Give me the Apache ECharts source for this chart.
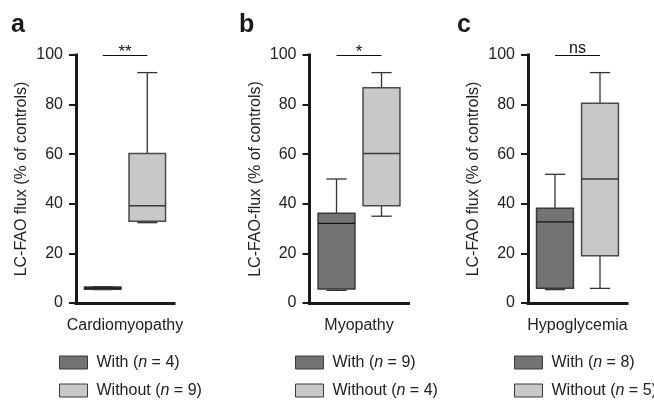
<!DOCTYPE html>
<html>
<head>
<meta charset="utf-8">
<script src="https://cdn.jsdelivr.net/npm/echarts/dist/echarts.min.js"></script>
<style>
  html, body { margin: 0; padding: 0; background: #ffffff; }
  #chart { width: 654px; height: 400px; }
</style>
</head>
<body>
<div id="chart"></div>
<script>
// ---- data ----
const panelLetters = ['a', 'b', 'c'];
const conditions = ['Cardiomyopathy', 'Myopathy', 'Hypoglycemia'];
const yTitles = ['LC-FAO flux (% of controls)', 'LC-FAO-flux (% of controls)', 'LC-FAO flux (% of controls)'];
const groups = ['With', 'Without'];
const withN = [4, 9, 8];
const withoutN = [9, 4, 5];
// [min, Q1, median, Q3, max]
const withStats = [
  [5.4, 5.5, 6.0, 6.5, 6.6],
  [5.1, 5.6, 32.1, 36.2, 50.0],
  [5.4, 5.9, 32.7, 38.2, 51.9]
];
const withoutStats = [
  [32.4, 33.0, 39.2, 60.3, 92.9],
  [35.0, 39.2, 60.3, 86.8, 92.9],
  [5.9, 19.1, 50.0, 80.5, 92.9]
];
const significance = ['**', '*', 'ns'];
const sigLevel = 100;
const yMin = 0, yMax = 100, yStep = 20;

// ---- styles ----
const gridLeft = [76, 309.5, 528];
const gridWidth = [98, 99, 99];
const legendLeft = [59, 295, 514];
const legendTop = [354, 382];
const letterLeft = [11, 239, 457];
const groupStyle = {
  With:    { fill: '#737373', border: '#3a3a3a', median: '#111111' },
  Without: { fill: '#c8c8c8', border: '#4a4a4a', median: '#3a3a3a' }
};
const axisColor = '#1a1a1a';
const textColor = '#222222';
const FONT = 'Liberation Sans, Arial, sans-serif';

function makeRender(groupName) {
  const st = groupStyle[groupName];
  return function (params, api) {
    const x = api.value(0);
    const lo = api.coord([x, api.value(1)]);
    const q1 = api.coord([x, api.value(2)]);
    const med = api.coord([x, api.value(3)]);
    const q3 = api.coord([x, api.value(4)]);
    const hi = api.coord([x, api.value(5)]);
    const boxW = api.size([0.82, 0])[0];
    const capW = api.size([0.45, 0])[0];
    const cx = med[0];
    const wStyle = { stroke: '#333333', lineWidth: 1.3 };
    return {
      type: 'group',
      children: [
        { type: 'line', shape: { x1: cx, y1: hi[1], x2: cx, y2: q3[1] }, style: wStyle },
        { type: 'line', shape: { x1: cx - capW / 2, y1: hi[1], x2: cx + capW / 2, y2: hi[1] }, style: wStyle },
        { type: 'line', shape: { x1: cx, y1: lo[1], x2: cx, y2: q1[1] }, style: wStyle },
        { type: 'line', shape: { x1: cx - capW / 2, y1: lo[1], x2: cx + capW / 2, y2: lo[1] }, style: wStyle },
        { type: 'rect', shape: { x: cx - boxW / 2, y: q3[1], width: boxW, height: q1[1] - q3[1] },
          style: { fill: st.fill, stroke: st.border, lineWidth: 1.5 } },
        { type: 'line', shape: { x1: cx - boxW / 2, y1: med[1], x2: cx + boxW / 2, y2: med[1] },
          style: { stroke: st.median, lineWidth: 1.4 } }
      ]
    };
  };
}

const withName = i => `With (n = ${withN[i]})`;
const withoutName = i => `Without (n = ${withoutN[i]})`;

function legendFor(name, left, top) {
  return {
    data: [name],
    orient: 'vertical', left: left, top: top, padding: 0,
    itemWidth: 28, itemHeight: 13, icon: 'rect',
    selectedMode: false,
    itemStyle: { borderColor: '#3a3a3a', borderWidth: 1 },
    textStyle: {
      fontSize: 16, color: textColor, lineHeight: 17, padding: [0, 0, 0, 4],
      fontFamily: FONT,
      rich: { i: { fontStyle: 'italic', fontSize: 16, color: textColor, fontFamily: FONT } }
    },
    formatter: n => n.replace('(n', '({i|n}')
  };
}

const grid = [], xAxis = [], yAxis = [], series = [], legend = [], title = [];
conditions.forEach((cond, i) => {
  grid.push({ left: gridLeft[i], top: 55, width: gridWidth[i], height: 248, containLabel: false });
  xAxis.push({
    gridIndex: i, type: 'value', min: -0.6, max: 1.6,
    axisLine: { show: true, onZero: false, lineStyle: { color: axisColor, width: 3, cap: 'square' } },
    axisTick: { show: false }, axisLabel: { show: false }, splitLine: { show: false },
    name: cond, nameLocation: 'middle', nameGap: 15,
    nameTextStyle: { fontSize: 16, color: textColor, fontFamily: FONT, verticalAlign: 'top' }
  });
  yAxis.push({
    gridIndex: i, type: 'value', min: yMin, max: yMax, interval: yStep,
    axisLine: { show: true, onZero: false, lineStyle: { color: axisColor, width: 3, cap: 'square' } },
    axisTick: { show: true, length: 7, lineStyle: { color: axisColor, width: 2 } },
    axisLabel: { fontSize: 16, color: textColor, margin: 13, fontFamily: FONT },
    splitLine: { show: false },
    name: yTitles[i], nameLocation: 'middle', nameGap: 46,
    nameTextStyle: { fontSize: 16, color: textColor, fontFamily: FONT }
  });
  const isStar = significance[i] !== 'ns';
  series.push({
    type: 'custom', name: withName(i), xAxisIndex: i, yAxisIndex: i,
    itemStyle: { color: groupStyle.With.fill },
    renderItem: makeRender('With'),
    encode: { x: 0, y: [1, 2, 3, 4, 5] },
    data: [[groups.indexOf('With')].concat(withStats[i])],
    animation: false,
    markLine: {
      silent: true, symbol: 'none', animation: false,
      lineStyle: { color: '#111111', width: 1.2, type: 'solid' },
      label: {
        show: true, position: 'middle', formatter: significance[i],
        fontSize: isStar ? 17 : 16, color: '#111111', fontFamily: FONT,
        distance: isStar ? -6 : -2
      },
      data: [[{ coord: [groups.indexOf('With'), sigLevel] }, { coord: [groups.indexOf('Without'), sigLevel] }]]
    }
  });
  series.push({
    type: 'custom', name: withoutName(i), xAxisIndex: i, yAxisIndex: i,
    itemStyle: { color: groupStyle.Without.fill },
    renderItem: makeRender('Without'),
    encode: { x: 0, y: [1, 2, 3, 4, 5] },
    data: [[groups.indexOf('Without')].concat(withoutStats[i])],
    animation: false
  });
  legend.push(legendFor(withName(i), legendLeft[i], legendTop[0]));
  legend.push(legendFor(withoutName(i), legendLeft[i], legendTop[1]));
  title.push({
    text: panelLetters[i], left: letterLeft[i], top: 13, padding: 0,
    textStyle: { fontSize: 25, fontWeight: 'bold', color: '#1a1a1a', fontFamily: FONT }
  });
});

const chart = echarts.init(document.getElementById('chart'), null, { renderer: 'canvas' });
chart.setOption({
  backgroundColor: '#ffffff',
  animation: false,
  title, grid, xAxis, yAxis, series, legend
});
</script>
</body>
</html>
